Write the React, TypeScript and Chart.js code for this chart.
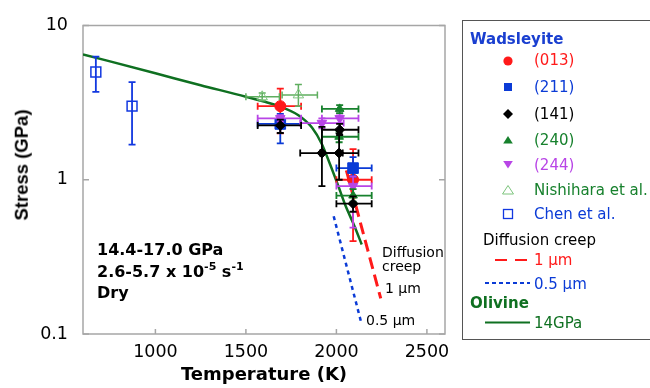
import React, { useEffect, useRef } from "react";
import { Chart, registerables } from "chart.js";
Chart.register(...registerables);

// ---------- data ----------
const xTicks = [1000, 1500, 2000, 2500];
const yTicks = [0.1, 1, 10];

// Olivine 14 GPa flow-law curve
const olivineT = [600, 1000, 1250, 1500, 1690, 1790, 1865, 1920, 1966, 2012, 2050, 2100, 2140];
const olivineS = [6.5, 4.9, 4.1, 3.45, 2.98, 2.62, 2.18, 1.7, 1.25, 0.9, 0.68, 0.5, 0.38];

// Diffusion creep lines
const diff1T = [2055, 2245];
const diff1S = [1.15, 0.17];
const diff05T = [1985, 2140];
const diff05S = [0.58, 0.115];

type Pt = { T: number; S: number; Tlo?: number; Thi?: number; Slo?: number; Shi?: number };

const s013: Pt[] = [
  { T: 1690, S: 3.0, Tlo: 1565, Thi: 1805, Slo: 2.0, Shi: 3.9 },
  { T: 2092, S: 1.0, Tlo: 2000, Thi: 2195, Slo: 0.4, Shi: 1.58 },
];
const s211: Pt[] = [
  { T: 1690, S: 2.3, Tlo: 1565, Thi: 1805, Slo: 1.72, Shi: 2.67 },
  { T: 2092, S: 1.19, Tlo: 2000, Thi: 2195, Slo: 1.05, Shi: 1.4 },
];
const s141: Pt[] = [
  { T: 1690, S: 2.25, Tlo: 1565, Thi: 1805, Slo: 2.01, Shi: 2.45 },
  { T: 1920, S: 1.49, Tlo: 1800, Thi: 2035, Slo: 0.91, Shi: 2.2 },
  { T: 2015, S: 1.49, Tlo: 1910, Thi: 2122, Slo: 1.0, Shi: 2.0 },
  { T: 2018, S: 2.11, Tlo: 1920, Thi: 2122, Slo: 1.95, Shi: 2.3 },
  { T: 2092, S: 0.7, Tlo: 2000, Thi: 2195, Slo: 0.62, Shi: 0.78 },
];
const s240: Pt[] = [
  { T: 2018, S: 2.88, Tlo: 1920, Thi: 2122, Slo: 2.7, Shi: 3.05 },
  { T: 2015, S: 1.9, Tlo: 1920, Thi: 2122, Slo: 1.75, Shi: 2.05 },
  { T: 2092, S: 0.79, Tlo: 2000, Thi: 2195, Slo: 0.72, Shi: 0.87 },
];
const s244: Pt[] = [
  { T: 1690, S: 2.5, Tlo: 1565, Thi: 1805, Slo: 2.38, Shi: 2.62 },
  { T: 1920, S: 2.33, Tlo: 1800, Thi: 2040, Slo: 2.15, Shi: 2.5 },
  { T: 2018, S: 2.5, Tlo: 1920, Thi: 2122, Slo: 2.32, Shi: 2.68 },
  { T: 2092, S: 0.91, Tlo: 2000, Thi: 2195, Slo: 0.49, Shi: 1.05 },
];
const sNishihara: Pt[] = [
  { T: 1590, S: 3.45, Tlo: 1500, Thi: 1685, Slo: 3.25, Shi: 3.65 },
  { T: 1790, S: 3.55, Tlo: 1700, Thi: 1895, Slo: 3.0, Shi: 4.15 },
];
const sChen: Pt[] = [
  { T: 671, S: 5.0, Slo: 3.71, Shi: 6.28 },
  { T: 871, S: 3.0, Slo: 1.69, Shi: 4.29 },
];

// ---------- styles ----------
const RED = "#ff1a1a";
const BLUE = "#0b3bd6";
const BLACK = "#000000";
const GREEN = "#17812d";
const PURPLE = "#b845e6";
const LIGHTGREEN = "#7dc47d";
const CHEN = "#1238e0";
const OLIVINE = "#0f7021";
const FONT = '"DejaVu Sans", "Liberation Sans", sans-serif';

const errorBarPlugin = {
  id: "errorBars",
  beforeDatasetDraw(chart: any, args: any) {
    const ds = chart.data.datasets[args.index];
    if (!ds.errors) return;
    const xs = chart.scales.x;
    const ys = chart.scales.y;
    const ctx = chart.ctx;
    const cap = 3.5;
    ctx.save();
    ctx.strokeStyle = ds.errorColor;
    ctx.lineWidth = ds.errorWidth || 1.8;
    ds.errors.forEach((p: Pt) => {
      const x = xs.getPixelForValue(p.T);
      const y = ys.getPixelForValue(p.S);
      ctx.beginPath();
      if (p.Tlo != null && p.Thi != null) {
        const x1 = xs.getPixelForValue(p.Tlo);
        const x2 = xs.getPixelForValue(p.Thi);
        ctx.moveTo(x1, y); ctx.lineTo(x2, y);
        ctx.moveTo(x1, y - cap); ctx.lineTo(x1, y + cap);
        ctx.moveTo(x2, y - cap); ctx.lineTo(x2, y + cap);
      }
      if (p.Slo != null && p.Shi != null) {
        const y1 = ys.getPixelForValue(p.Slo);
        const y2 = ys.getPixelForValue(p.Shi);
        ctx.moveTo(x, y1); ctx.lineTo(x, y2);
        ctx.moveTo(x - cap, y1); ctx.lineTo(x + cap, y1);
        ctx.moveTo(x - cap, y2); ctx.lineTo(x + cap, y2);
      }
      ctx.stroke();
    });
    ctx.restore();
  },
};

const framePlugin = {
  id: "frame",
  beforeDatasetsDraw(chart: any) {
    const { ctx, chartArea: a } = chart;
    const xs = chart.scales.x;
    const ys = chart.scales.y;
    ctx.save();
    ctx.strokeStyle = "#a6a6a6";
    ctx.lineWidth = 1.5;
    ctx.strokeRect(a.left, a.top, a.right - a.left, a.bottom - a.top);
    ctx.beginPath();
    xTicks.forEach((v) => {
      const x = xs.getPixelForValue(v);
      ctx.moveTo(x, a.bottom);
      ctx.lineTo(x, a.bottom - 5);
    });
    yTicks.forEach((v) => {
      const y = ys.getPixelForValue(v);
      ctx.moveTo(a.left, y);
      ctx.lineTo(a.left + 6, y);
      ctx.moveTo(a.right, y);
      ctx.lineTo(a.right - 6, y);
    });
    ctx.stroke();
    ctx.restore();
  },
};

function scatterSet(label: string, pts: Pt[], color: string, style: string, radius: number, opts: any = {}) {
  return {
    type: "scatter",
    label,
    data: pts.map((p) => ({ x: p.T, y: p.S })),
    errors: pts,
    errorColor: opts.errorColor || color,
    errorWidth: opts.errorWidth,
    pointStyle: style,
    pointRadius: radius,
    pointRotation: opts.rotation || 0,
    backgroundColor: opts.fill === false ? "rgba(0,0,0,0)" : color,
    borderColor: color,
    borderWidth: opts.borderWidth || 1,
    order: 0,
  };
}

function Txt(props: { x: number; base: number; size: number; bold?: boolean; color?: string; children: any }) {
  const { x, base, size, bold, color, children } = props;
  return (
    <div
      style={{
        position: "absolute",
        left: x,
        top: base - 0.846 * size,
        fontFamily: FONT,
        fontSize: size,
        fontWeight: bold ? "bold" : "normal",
        lineHeight: `${size}px`,
        color: color || "#000",
        whiteSpace: "nowrap",
      }}
    >
      {children}
    </div>
  );
}

const Sup = (p: { children: any }) => (
  <span style={{ fontSize: 11, position: "relative", top: -7 }}>{p.children}</span>
);

export default function App() {
  const ref = useRef<HTMLCanvasElement | null>(null);

  useEffect(() => {
    if (!ref.current) return;
    const line = (T: number[], S: number[]) => T.map((t, i) => ({ x: t, y: S[i] }));
    const chart = new Chart(ref.current, {
      type: "scatter",
      data: {
        datasets: [
          {
            type: "line",
            label: "14GPa",
            data: line(olivineT, olivineS),
            borderColor: OLIVINE,
            borderWidth: 2.5,
            pointRadius: 0,
            cubicInterpolationMode: "monotone",
            fill: false,
            order: 10,
          },
          {
            type: "line",
            label: "1 µm",
            data: line(diff1T, diff1S),
            borderColor: RED,
            borderWidth: 3,
            borderDash: [12, 6],
            pointRadius: 0,
            fill: false,
            order: 9,
          },
          {
            type: "line",
            label: "0.5 µm",
            data: line(diff05T, diff05S),
            borderColor: BLUE,
            borderWidth: 2.5,
            borderDash: [4, 4],
            pointRadius: 0,
            fill: false,
            order: 9,
          },
          scatterSet("Nishihara et al.", sNishihara, LIGHTGREEN, "triangle", 6, { fill: false, errorColor: "#5fae5f", errorWidth: 1.5 }),
          scatterSet("Chen et al.", sChen, CHEN, "rect", 7, { fill: false, borderWidth: 1.5 }),
          scatterSet("(141)", s141, BLACK, "rectRot", 5),
          scatterSet("(240)", s240, GREEN, "triangle", 5),
          scatterSet("(244)", s244, PURPLE, "triangle", 5.5, { rotation: 180 }),
          scatterSet("(211)", s211, BLUE, "rect", 7.5),
          scatterSet("(013)", s013, RED, "circle", 5.5),
        ] as any,
      },
      options: {
        animation: false,
        responsive: false,
        events: [],
        layout: { padding: { left: 0, top: 20, right: 205, bottom: 0 } },
        plugins: { legend: { display: false }, tooltip: { enabled: false } },
        scales: {
          x: {
            type: "linear",
            min: 600,
            max: 2600,
            afterBuildTicks: (s: any) => {
              s.ticks = xTicks.map((v) => ({ value: v }));
            },
            afterFit: (s: any) => {
              s.height = 54;
            },
            grid: { display: false, drawTicks: false },
            border: { display: false },
            ticks: {
              color: "#000",
              padding: 8,
              font: { family: FONT, size: 17.5 },
              callback: (v: any) => String(v),
            },
            title: {
              display: true,
              text: "Temperature (K)",
              color: "#000",
              font: { family: FONT, size: 18, weight: "bold" },
              padding: { top: 0, bottom: 2 },
            },
          },
          y: {
            type: "logarithmic",
            min: 0.1,
            max: 10,
            afterBuildTicks: (s: any) => {
              s.ticks = yTicks.map((v) => ({ value: v }));
            },
            afterFit: (s: any) => {
              s.width = 83;
            },
            grid: { display: false, drawTicks: false },
            border: { display: false },
            ticks: {
              color: "#000",
              padding: 15,
              font: { family: FONT, size: 17.5 },
              callback: (v: any) => String(v),
            },
            title: { display: false },
          },
        },
      } as any,
      plugins: [framePlugin, errorBarPlugin],
    });
    return () => chart.destroy();
  }, []);

  const mx = 508;
  return (
    <div style={{ position: "fixed", left: 0, top: 0, width: 650, height: 388, background: "#fff", overflow: "hidden" }}>
      <canvas ref={ref} width={650} height={388} style={{ position: "absolute", left: 0, top: 0, width: 650, height: 388 }} />

      {/* y axis title */}
      <div
        style={{
          position: "absolute",
          left: 22,
          top: 164.5,
          transform: "translate(-50%, -50%) rotate(-90deg)",
          fontFamily: '"Liberation Sans", Arial, sans-serif',
          fontWeight: "bold",
          fontSize: 18.5,
          lineHeight: "18.5px",
          whiteSpace: "nowrap",
          color: "#000",
        }}
      >
        Stress (GPa)
      </div>

      {/* in-plot annotations */}
      <Txt x={97} base={256} size={16} bold>14.4-17.0 GPa</Txt>
      <Txt x={97} base={278} size={16} bold>
        2.6-5.7 x 10<Sup>-5</Sup> s<Sup>-1</Sup>
      </Txt>
      <Txt x={97} base={299} size={16} bold>Dry</Txt>
      <Txt x={382} base={256.5} size={14}>Diffusion</Txt>
      <Txt x={382} base={271} size={14}>creep</Txt>
      <Txt x={385} base={293} size={14}>1 µm</Txt>
      <Txt x={366} base={325} size={14}>0.5 µm</Txt>

      {/* legend box */}
      <div style={{ position: "absolute", left: 462, top: 20, width: 200, height: 318, border: "1px solid #555" }} />
      <svg width={650} height={388} style={{ position: "absolute", left: 0, top: 0, pointerEvents: "none" }}>
        <circle cx={mx} cy={61} r={4.6} fill={RED} />
        <rect x={mx - 4} y={83} width={8} height={8} fill={BLUE} />
        <polygon points={`${mx},${109} ${mx + 5},${114} ${mx},${119} ${mx - 5},${114}`} fill={BLACK} />
        <polygon points={`${mx},${136} ${mx + 4.8},${143.5} ${mx - 4.8},${143.5}`} fill={GREEN} />
        <polygon points={`${mx - 4.8},${161} ${mx + 4.8},${161} ${mx},${168.5}`} fill={PURPLE} />
        <polygon points={`${mx},${185.5} ${mx + 5.5},${194} ${mx - 5.5},${194}`} fill="none" stroke={LIGHTGREEN} strokeWidth={1} />
        <rect x={mx - 4.5} y={209.5} width={9} height={9} fill="none" stroke={CHEN} strokeWidth={1.3} />
        <line x1={495} y1={260} x2={507} y2={260} stroke={RED} strokeWidth={2} />
        <line x1={515} y1={260} x2={527} y2={260} stroke={RED} strokeWidth={2} />
        <line x1={485} y1={283} x2={530} y2={283} stroke={BLUE} strokeWidth={2} strokeDasharray="4 3" />
        <line x1={485} y1={322.5} x2={530} y2={322.5} stroke={OLIVINE} strokeWidth={2} />
      </svg>
      <Txt x={470} base={45} size={15} bold color="#1a3fd0">Wadsleyite</Txt>
      <Txt x={534} base={66} size={15} color={RED}>(013)</Txt>
      <Txt x={534} base={92.5} size={15} color={BLUE}>(211)</Txt>
      <Txt x={534} base={119.5} size={15} color={BLACK}>(141)</Txt>
      <Txt x={534} base={145.5} size={15} color={GREEN}>(240)</Txt>
      <Txt x={534} base={170.5} size={15} color={PURPLE}>(244)</Txt>
      <Txt x={534} base={195.5} size={15} color={GREEN}>Nishihara et al.</Txt>
      <Txt x={534} base={219.5} size={15} color={BLUE}>Chen et al.</Txt>
      <Txt x={483} base={245.5} size={15}>Diffusion creep</Txt>
      <Txt x={534} base={265.5} size={15} color={RED}>1 µm</Txt>
      <Txt x={534} base={289.5} size={15} color={BLUE}>0.5 µm</Txt>
      <Txt x={470} base={309} size={15} bold color={OLIVINE}>Olivine</Txt>
      <Txt x={534} base={328.5} size={15} color={OLIVINE}>14GPa</Txt>
    </div>
  );
}
